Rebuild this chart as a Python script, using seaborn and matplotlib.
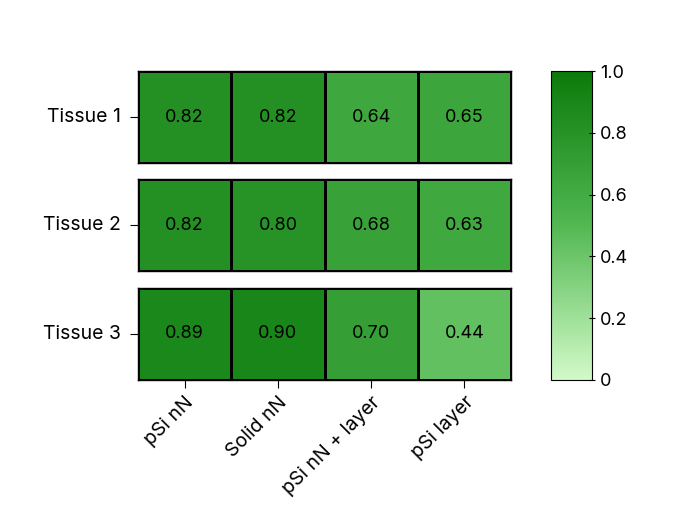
import numpy as np
import seaborn as sns
import matplotlib.pyplot as plt
from matplotlib.colors import LinearSegmentedColormap

plt.rcParams['font.family'] = 'Inter'

tissues = ['Tissue 1', 'Tissue 2', 'Tissue 3']
methods = ['pSi nN', 'Solid nN', 'pSi nN + layer', 'pSi layer']
scores = [
    [0.82, 0.82, 0.64, 0.65],
    [0.82, 0.80, 0.68, 0.63],
    [0.89, 0.90, 0.70, 0.44],
]

cmap = LinearSegmentedColormap.from_list('greens', ['#d2fac8', '#52b852', '#0a7a0a'])

fig = plt.figure(figsize=(6.85, 5.31), dpi=100)
W, H = 685, 531
row_tops = [71, 179, 288]
row_h = 92
for i, (name, vals) in enumerate(zip(tissues, scores)):
    ax = fig.add_axes([138 / W, 1 - (row_tops[i] + row_h) / H, 373 / W, row_h / H])
    sns.heatmap(np.array([vals]), ax=ax, vmin=0, vmax=1, cmap=cmap, cbar=False,
                annot=True, fmt='.2f', annot_kws={'size': 13, 'color': 'black'},
                linewidths=0.8, linecolor='black')
    for s in ax.spines.values():
        s.set_visible(True)
        s.set_color('black')
        s.set_linewidth(1)
    ax.set_yticks([0.5])
    ax.set_yticklabels([name], rotation=0, fontsize=14)
    ax.tick_params(axis='y', length=6, pad=6)
    if i == len(tissues) - 1:
        ax.set_xticks(np.arange(len(methods)) + 0.5)
        ax.set_xticklabels(methods, rotation=45, ha='right', rotation_mode='anchor', fontsize=14)
        ax.tick_params(axis='x', length=6)
    else:
        ax.set_xticks([])

cax = fig.add_axes([551 / W, 1 - 380 / H, 41 / W, 309 / H])
sm = plt.cm.ScalarMappable(cmap=cmap, norm=plt.Normalize(0, 1))
cb = fig.colorbar(sm, cax=cax, ticks=[0, 0.2, 0.4, 0.6, 0.8, 1.0])
cb.ax.set_yticklabels(['0', '0.2', '0.4', '0.6', '0.8', '1.0'], fontsize=13)
cb.ax.tick_params(length=5, direction='inout')
cb.outline.set_edgecolor('black')

fig.savefig('out.png', dpi=100)
